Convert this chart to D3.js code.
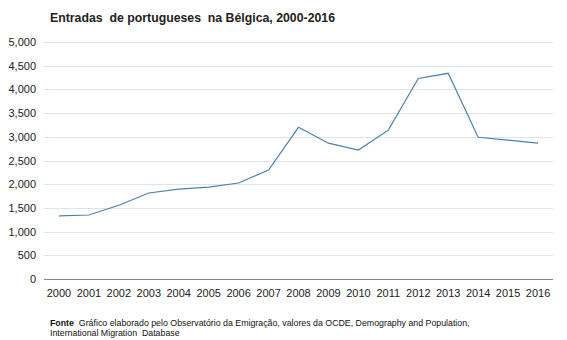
<!DOCTYPE html>
<html>
<head>
<meta charset="utf-8">
<script src="https://d3js.org/d3.v7.min.js"></script>
<style>
  body { margin: 0; background: #fff; }
  text { font-family: "Liberation Sans", Arial, sans-serif; white-space: pre; }
</style>
</head>
<body>
<div id="chart-area"></div>
<script>
// Data
var years = ["2000","2001","2002","2003","2004","2005","2006","2007","2008",
             "2009","2010","2011","2012","2013","2014","2015","2016"];
var entradas = [1330, 1350, 1555, 1815, 1895, 1940, 2025, 2300, 3200,
                2865, 2720, 3140, 4230, 4340, 2990, 2930, 2865];
var yTicks = [0, 500, 1000, 1500, 2000, 2500, 3000, 3500, 4000, 4500, 5000];

var margin = { left:44, right:14, top:42, bottom:61 },
    width = 567 - margin.left - margin.right,
    height = 340 - margin.top - margin.bottom;

var svg = d3.select("#chart-area")
    .append("svg")
    .attr("width", 567)
    .attr("height", 340);

// Title
svg.append("text")
    .attr("x", 50)
    .attr("y", 22)
    .attr("font-size", "12.3px")
    .attr("font-weight", "bold")
    .attr("fill", "#222")
    .text("Entradas  de portugueses  na Bélgica, 2000-2016");

var g = svg.append("g")
    .attr("transform", "translate(" + margin.left + "," + margin.top + ")");

// Scales
var x = d3.scaleBand().domain(years).range([0, width]);
var y = d3.scaleLinear().domain([0, 5000]).range([height, 0]);

// Gridlines
g.append("g")
    .selectAll("line")
    .data(yTicks.slice(1))
    .enter().append("line")
    .attr("x1", 0)
    .attr("x2", width)
    .attr("y1", function(d) { return Math.round(y(d)) + 0.5; })
    .attr("y2", function(d) { return Math.round(y(d)) + 0.5; })
    .attr("stroke", "#dde4ea")
    .attr("stroke-width", 1);

// Y axis labels
var yAxisCall = d3.axisLeft(y)
    .tickValues(yTicks)
    .tickSize(0)
    .tickPadding(8)
    .tickFormat(d3.format(","));
var yAxis = g.append("g").call(yAxisCall);
yAxis.select(".domain").remove();
yAxis.selectAll("text")
    .attr("font-size", "11px")
    .attr("fill", "#222")
    .style("font-family", "'Liberation Sans', Arial, sans-serif");

// X axis
var xAxisCall = d3.axisBottom(x)
    .tickSize(0)
    .tickPadding(10);
var xAxis = g.append("g")
    .attr("transform", "translate(0," + height + ")")
    .call(xAxisCall);
xAxis.select(".domain")
    .attr("stroke", "#888")
    .attr("d", "M0,0.5H" + width);
xAxis.selectAll("text")
    .attr("font-size", "11px")
    .attr("fill", "#222")
    .style("font-family", "'Liberation Sans', Arial, sans-serif");

// Line
var line = d3.line()
    .x(function(d, i) { return x(years[i]) + x.bandwidth() / 2; })
    .y(function(d) { return y(d); });

g.append("path")
    .datum(entradas)
    .attr("fill", "none")
    .attr("stroke", "#4f7fb0")
    .attr("stroke-width", "1.2px")
    .attr("d", line);

// Source
var src = svg.append("text")
    .attr("x", 50)
    .attr("y", 326)
    .attr("font-size", "8.8px")
    .attr("fill", "#111");
src.append("tspan").attr("font-weight", "bold").text("Fonte");
src.append("tspan").text("  Gráfico elaborado pelo Observatório da Emigração, valores da OCDE, Demography and Population,");
svg.append("text")
    .attr("x", 50)
    .attr("y", 336)
    .attr("font-size", "8.8px")
    .attr("fill", "#111")
    .text("International Migration  Database");
</script>
</body>
</html>
